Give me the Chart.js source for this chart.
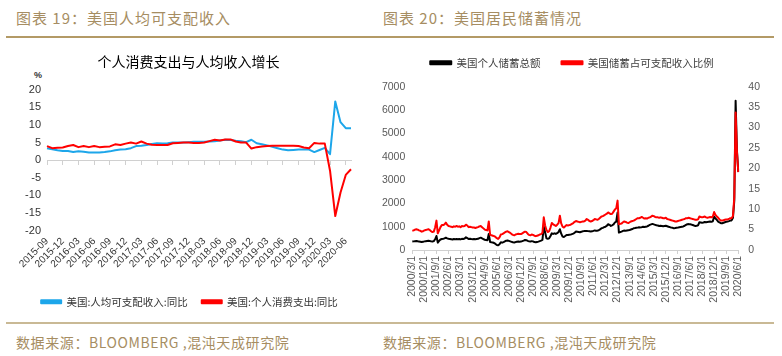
<!DOCTYPE html>
<html><head><meta charset="utf-8">
<script src="https://cdn.jsdelivr.net/npm/chart.js@4.4.1/dist/chart.umd.min.js"></script>
<style>
html,body{margin:0;padding:0;background:#fff;}
body{width:782px;height:356px;position:relative;overflow:hidden;font-family:"Noto Sans CJK SC",sans-serif;}
.hdr,.ftr{position:absolute;color:#a68d62;line-height:18px;white-space:nowrap;}
.hdr{top:9px;font-size:15px;letter-spacing:1px;}
.ftr{top:333px;font-size:14px;letter-spacing:0.6px;}
.rule{position:absolute;left:6px;width:768px;}
canvas{position:absolute;}
</style></head><body>
<div class="hdr" style="left:16px">图表 19：美国人均可支配收入</div>
<div class="hdr" style="left:383px">图表 20：美国居民储蓄情况</div>
<div class="rule" style="top:36px;height:2px;background:#b39a66"></div>
<div class="rule" style="top:322px;height:2px;background:#c9b995"></div>
<div class="ftr" style="left:16px">数据来源：BLOOMBERG ,混沌天成研究院</div>
<div class="ftr" style="left:383px">数据来源：BLOOMBERG ,混沌天成研究院</div>
<div style="position:absolute;left:34px;top:69px;font:bold 9px 'Liberation Sans',sans-serif;line-height:12px;color:#333">%</div>
<canvas id="c1" width="372" height="276" style="left:0;top:42px"></canvas>
<canvas id="c2" width="395" height="300" style="left:380px;top:20px"></canvas>
<script>
// ---------- Chart 19 data (monthly, 2015-09 .. 2020-07) ----------
const incomeYoY = [
  3.4, 3.1, 2.8, 2.6, 2.6, 2.3, 2.5, 2.4, 2.2, 2.2,
  2.2, 2.3, 2.5, 2.8, 3.0, 3.1, 3.4, 4.0, 4.1, 4.3,
  4.6, 4.8, 4.7, 4.8, 5.0, 5.0, 5.0, 5.1, 5.2, 5.2,
  5.2, 5.3, 5.4, 5.6, 5.8, 5.7, 5.5, 5.4, 5.1, 5.8,
  4.8, 4.5, 4.2, 3.8, 3.4, 3.0, 2.8, 2.9, 3.0, 3.0,
  3.0, 2.3, 2.9, 3.5, 1.7, 16.7, 10.8, 9.1, 9.1
];
const pceYoY = [
  4.0, 3.4, 3.5, 3.6, 4.0, 4.3, 3.7, 4.0, 3.7, 4.0,
  3.7, 3.8, 3.9, 4.5, 4.3, 4.7, 5.0, 4.7, 5.3, 4.7,
  4.4, 4.3, 4.3, 4.3, 4.8, 4.9, 5.0, 5.0, 4.9, 4.9,
  5.0, 5.4, 5.8, 5.6, 5.9, 5.9, 5.3, 5.0, 5.0, 3.3,
  3.7, 3.9, 4.0, 4.1, 4.1, 4.1, 4.1, 4.1, 4.0, 3.6,
  3.4, 4.9, 4.7, 4.7, -3.0, -15.9, -9.2, -4.2, -2.6
];
const leftYTicks = [-20, -15, -10, -5, 0, 5, 10, 15, 20];

// ---------- Chart 20 data (monthly, 2000-03 .. 2020-06) ----------
const savingRate = [
  4.7, 4.8, 5.0, 5.1, 5.0, 4.8, 4.7, 4.5, 4.6, 4.8,
  4.9, 5.0, 5.1, 4.9, 4.6, 4.4, 4.5, 5.5, 7.2, 4.1, 4.8, 5.6,
  6.1, 6.1, 6.3, 6.7, 6.2, 5.9, 5.8, 5.7, 5.6, 5.8, 5.7, 5.9,
  5.7, 5.8, 5.6, 5.9, 5.8, 5.9, 6.2, 6.0, 5.6, 5.7, 5.6, 5.5,
  5.5, 5.4, 5.5, 5.6, 5.8, 5.9, 5.6, 5.3, 5.0, 4.9, 4.8, 7.0,
  3.7, 3.6, 3.5, 3.4, 3.2, 2.9, 2.7, 3.1, 3.8, 3.9, 4.1, 4.3,
  4.5, 4.6, 4.4, 4.2, 3.9, 3.7, 3.6, 3.8, 3.9, 4.0, 3.9, 3.9,
  4.1, 4.3, 4.5, 4.4, 4.0, 3.7, 3.6, 3.8, 3.7, 3.5, 3.4, 3.5,
  3.6, 3.8, 3.9, 4.2, 8.0, 6.0, 4.9, 4.4, 4.6, 5.5, 6.6, 6.3,
  6.1, 5.9, 6.2, 6.6, 8.4, 6.5, 5.7, 5.5, 5.8, 6.1, 6.0, 6.1,
  6.2, 6.4, 6.6, 6.9, 7.1, 7.0, 6.9, 6.8, 6.9, 7.0, 7.0, 7.2,
  7.6, 7.4, 7.1, 7.0, 7.1, 7.3, 7.6, 7.5, 7.4, 7.6, 7.9, 8.2,
  8.3, 8.5, 8.7, 8.9, 9.2, 9.0, 8.8, 8.9, 9.4, 9.9, 10.2, 12.1,
  6.3, 6.4, 6.5, 6.8, 7.0, 6.9, 6.7, 6.6, 6.8, 7.0, 7.1, 7.2,
  7.4, 7.6, 7.8, 7.8, 7.9, 8.1, 7.9, 7.7, 7.8, 7.7, 7.9, 8.0,
  8.2, 8.4, 8.3, 8.1, 8.0, 8.0, 7.9, 8.0, 7.9, 7.8, 7.8, 7.9,
  7.6, 7.5, 7.4, 7.3, 7.2, 7.1, 7.0, 7.0, 7.1, 7.2, 7.3, 7.4,
  7.5, 7.6, 7.8, 7.8, 7.9, 7.8, 7.7, 7.6, 7.5, 7.4, 7.4, 7.5,
  8.2, 8.1, 8.0, 8.1, 8.2, 8.0, 7.9, 8.0, 8.1, 8.0, 8.2, 9.3,
  8.6, 8.2, 7.9, 7.5, 7.2, 7.2, 7.3, 7.4, 7.5, 7.5, 7.6, 7.8,
  7.8, 8.3, 12.8, 33.7, 24.0, 19.1
];
const savingAmount = [
  360, 370, 380, 390, 375, 360, 355, 340, 350, 370,
  380, 390, 400, 385, 370, 360, 380, 460, 600, 315, 390, 450,
  470, 480, 500, 530, 500, 480, 470, 460, 450, 470, 460, 470,
  460, 470, 455, 480, 475, 490, 545, 510, 470, 480, 470, 465,
  470, 460, 470, 480, 510, 530, 500, 470, 440, 430, 420, 690,
  344, 330, 320, 300, 260, 215, 200, 250, 330, 315, 340, 370,
  400, 410, 390, 370, 350, 330, 320, 340, 350, 360, 355, 360,
  380, 400, 430, 420, 390, 370, 360, 380, 370, 340, 330, 345,
  360, 380, 400, 430, 1000, 760, 500, 480, 500, 600, 717, 690,
  717, 690, 720, 770, 890, 700, 574, 560, 600, 646, 640, 650,
  660, 680, 700, 740, 790, 780, 770, 760, 780, 800, 810, 818,
  820, 810, 800, 790, 800, 820, 840, 830, 830, 850, 880, 933,
  950, 980, 1000, 1040, 1105, 1080, 1033, 1060, 1100, 1180, 1220, 1607,
  746, 770, 790, 820, 832, 830, 840, 850, 861, 880, 900, 933,
  940, 950, 960, 976, 970, 980, 1000, 990, 1000, 1010, 1040, 1080,
  1100, 1119, 1100, 1080, 1060, 1050, 1033, 1040, 1033, 1020, 1030, 1040,
  1020, 1000, 980, 960, 950, 933, 940, 950, 960, 976, 990, 1000,
  1010, 1040, 1080, 1105, 1110, 1100, 1090, 1070, 1050, 1033, 1040, 1060,
  1191, 1180, 1170, 1180, 1200, 1190, 1200, 1210, 1220, 1210, 1230, 1435,
  1350, 1291, 1220, 1180, 1148, 1150, 1170, 1190, 1210, 1220, 1240, 1262,
  1270, 1380, 2100, 6400, 4250, 3350
];
const rightLeftTicks = [0, 1000, 2000, 3000, 4000, 5000, 6000, 7000];
const rightRightTicks = [0, 5, 10, 15, 20, 25, 30, 35, 40];

// ---------- categories ----------
function monthList(y0, m0, n) {
  const r = [];
  for (let k = 0; k < n; k++) { const t = m0 - 1 + k; r.push([y0 + Math.floor(t / 12), t % 12 + 1]); }
  return r;
}
const cats1 = monthList(2015, 9, incomeYoY.length).map(([y, m]) => y + '-' + String(m).padStart(2, '0'));
const cats2 = monthList(2000, 3, savingRate.length).map(([y, m]) => y + '/' + m + '/1');

// small layout helper: extra gap under the legend, horizontal shift of legend/title
const boxAdjust = {
  id: 'boxAdjust',
  beforeLayout(chart, args, opts) {
    const lg = chart.legend;
    if (lg && !lg.__gap && opts.legendExtra) {
      const fit = lg.fit;
      lg.fit = function () { fit.call(this); this.height += opts.legendExtra; };
      lg.__gap = true;
    }
  },
  afterLayout(chart, args, opts) {
    if (opts.legendShift && chart.legend) { chart.legend.left += opts.legendShift; chart.legend.right += opts.legendShift; }
    if (opts.titleShift && chart.titleBlock) { chart.titleBlock.left += opts.titleShift; chart.titleBlock.right += opts.titleShift; }
  }
};

const CJK = 'Noto Sans CJK SC';
const NUM = "'Liberation Sans Narrow','Liberation Sans',Arial,sans-serif";

// ---------- Chart 19 ----------
new Chart(document.getElementById('c1'), {
  type: 'line',
  data: {
    labels: cats1,
    datasets: [
      { label: '美国:个人消费支出:同比', data: pceYoY, borderColor: '#ff0000', backgroundColor: '#ff0000',
        borderWidth: 2, pointRadius: 0, tension: 0, borderJoinStyle: 'round', xAxisID: 'x', yAxisID: 'y' },
      { label: '美国:人均可支配收入:同比', data: incomeYoY, borderColor: '#1da6ea', backgroundColor: '#1da6ea',
        borderWidth: 2, pointRadius: 0, tension: 0, borderJoinStyle: 'round', xAxisID: 'x', yAxisID: 'y' }
    ]
  },
  options: {
    responsive: false, animation: false, devicePixelRatio: 1,
    layout: { padding: { left: 0, right: 21, top: 0, bottom: 1 } },
    plugins: {
      tooltip: { enabled: false },
      boxAdjust: { legendShift: 14, titleShift: 13 },
      title: { display: true, text: '个人消费支出与人均收入增长', color: '#000',
        font: { family: CJK, size: 14, weight: 'normal' }, padding: { top: 11, bottom: 20 } },
      legend: { position: 'bottom',
        labels: { boxWidth: 20, boxHeight: 3, padding: 14, color: '#333',
          font: { family: CJK, size: 10.5 }, sort: (a, b) => b.datasetIndex - a.datasetIndex } }
    },
    scales: {
      y: { min: leftYTicks[0], max: leftYTicks[leftYTicks.length - 1],
        ticks: { stepSize: 5, color: '#333', padding: 6, font: { family: NUM, size: 11 } },
        grid: { display: false, drawTicks: false }, border: { display: false },
        afterFit: s => { s.width = 47; } },
      x: { type: 'category', position: { y: 0 },
        ticks: { display: false, autoSkip: false },
        grid: { drawOnChartArea: false, drawTicks: true, tickLength: 4,
          color: c => (c.index % 3 === 0 ? '#d0d0d0' : 'rgba(0,0,0,0)'),
          tickColor: c => (c.index % 3 === 0 ? '#d0d0d0' : 'rgba(0,0,0,0)') },
        border: { display: true, color: '#d0d0d0', width: 1 } },
      x2: { type: 'category', labels: cats1, position: 'bottom',
        grid: { display: false, drawTicks: false }, border: { display: false },
        ticks: { autoSkip: false, minRotation: 45, maxRotation: 45, padding: 5, color: '#333',
          font: { family: "'Liberation Sans',Arial,sans-serif", size: 10 },
          callback: (v, i) => (i % 3 === 0 ? cats1[i] : '') },
        afterFit: s => { s.height = 52; } }
    }
  },
  plugins: [boxAdjust]
});

// ---------- Chart 20 ----------
new Chart(document.getElementById('c2'), {
  type: 'line',
  data: {
    labels: cats2,
    datasets: [
      { label: '美国储蓄占可支配收入比例', data: savingRate, borderColor: '#ff0000', backgroundColor: '#ff0000',
        borderWidth: 2, pointRadius: 0, tension: 0, borderJoinStyle: 'round', yAxisID: 'y1' },
      { label: '美国个人储蓄总额', data: savingAmount, borderColor: '#000000', backgroundColor: '#000000',
        borderWidth: 2, pointRadius: 0, tension: 0, borderJoinStyle: 'round', yAxisID: 'y' }
    ]
  },
  options: {
    responsive: false, animation: false, devicePixelRatio: 1,
    layout: { padding: { left: 0, right: 11, top: 16.5, bottom: 0 } },
    plugins: {
      tooltip: { enabled: false },
      boxAdjust: { legendExtra: 8.8 },
      legend: { position: 'top',
        labels: { boxWidth: 21, boxHeight: 3, padding: 21, color: '#404040',
          font: { family: CJK, size: 10.5 }, sort: (a, b) => b.datasetIndex - a.datasetIndex } }
    },
    scales: {
      x: { type: 'category',
        ticks: { autoSkip: false, minRotation: 90, maxRotation: 90, padding: 2, color: '#595959',
          font: { family: "'Liberation Sans',Arial,sans-serif", size: 10.5 },
          callback: (v, i) => (i % 9 === 0 ? cats2[i] : '') },
        grid: { drawOnChartArea: false, drawTicks: true, tickLength: 4,
          color: c => (c.index % 9 === 0 ? '#d0d0d0' : 'rgba(0,0,0,0)'),
          tickColor: c => (c.index % 9 === 0 ? '#d0d0d0' : 'rgba(0,0,0,0)') },
        border: { display: true, color: '#d0d0d0', width: 1 },
        afterFit: s => { s.height = 70; } },
      y: { position: 'left', min: rightLeftTicks[0], max: rightLeftTicks[rightLeftTicks.length - 1],
        ticks: { stepSize: 1000, color: '#595959', padding: 7, font: { family: NUM, size: 10.5 },
          callback: v => String(v) },
        grid: { display: false, drawTicks: false }, border: { display: false },
        afterFit: s => { s.width = 32.3; } },
      y1: { position: 'right', min: rightRightTicks[0], max: rightRightTicks[rightRightTicks.length - 1],
        ticks: { stepSize: 5, color: '#595959', padding: 10, font: { family: NUM, size: 10.5 },
          callback: v => String(v) },
        grid: { display: false, drawTicks: false }, border: { display: false },
        afterFit: s => { s.width = 25.7; } }
    }
  },
  plugins: [boxAdjust]
});
</script>
</body></html>
